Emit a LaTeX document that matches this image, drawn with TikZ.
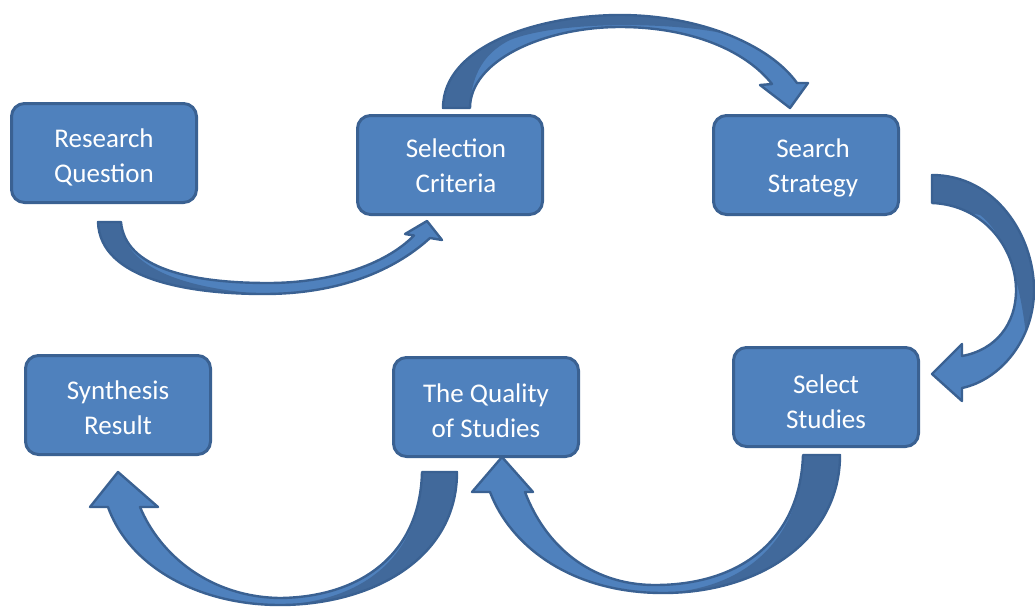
\documentclass[tikz,border=0pt]{standalone}
\usepackage{fontspec}
\setmainfont{Carlito}
\definecolor{boxfill}{HTML}{4F81BD}
\definecolor{boxline}{HTML}{3A6192}
\definecolor{arrdark}{HTML}{41699B}
\tikzset{
  box/.style={draw=boxline, line width=3pt, fill=boxfill, rounded corners=13pt,
    minimum width=185pt, minimum height=99pt},
  txt/.style={text=white, align=center, font=\fontsize{27}{35}\selectfont},
  arrline/.style={draw=boxline, line width=2.4pt, line join=round},
  pA/.style={insert path={(98,222) .. controls (100,280) and (190,294) .. (264,294)
    .. controls (340,294) and (395,270) .. (430,238) -- (442,240) -- (427,221) -- (405,234)
    -- (414,235.5) .. controls (385,265) and (330,283) .. (268,283)
    .. controls (190,283) and (125,268) .. (121,222) -- cycle}},
  dA/.style={insert path={(98,222) .. controls (100,280) and (190,294) .. (264,294)
    .. controls (190,289) and (123,270) .. (121,222) -- cycle}},
  pB/.style={insert path={(443,108) .. controls (443,45) and (540,15) .. (620,15)
    .. controls (700,15) and (770,45) .. (797,83) -- (808,83) -- (790,108) -- (760,85)
    -- (772,84) .. controls (745,50) and (690,27) .. (620,27)
    .. controls (545,27) and (470,60) .. (470,108) -- cycle}},
  dB/.style={insert path={(443,108) .. controls (443,45) and (540,15) .. (620,15)
    .. controls (670,15) and (705,22) .. (730,35) .. controls (680,22) and (560,20) .. (510,40)
    .. controls (480,55) and (471,80) .. (470,108) -- cycle}},
  pC/.style={insert path={(932,175) .. controls (995,175) and (1034,235) .. (1034,290)
    .. controls (1034,340) and (1000,380) .. (962,388) -- (962,401) -- (932,374) -- (962,344)
    -- (962,356) .. controls (995,350) and (1016,325) .. (1016,290)
    .. controls (1016,250) and (985,205) .. (932,203) -- cycle}},
  dC/.style={insert path={(930,170) -- (1000,170) -- (1040,240) -- (1040,300) -- (1026,335)
    .. controls (1022,300) and (1012,240) .. (980,215) -- (930,205) -- cycle}},
  pD/.style={insert path={(840,455) .. controls (840,540) and (760,593) .. (663,593)
    .. controls (570,593) and (510,545) .. (490,492) -- (472,492) -- (502,457) -- (533,492)
    -- (525,492) .. controls (545,545) and (590,585) .. (655,585)
    .. controls (740,585) and (800,540) .. (803,455) -- cycle}},
  dD/.style={insert path={(840,455) .. controls (840,540) and (760,593) .. (663,593)
    .. controls (745,589) and (801,540) .. (803,455) -- cycle}},
  pE/.style={insert path={(457,472) .. controls (457,560) and (370,605) .. (280,605)
    .. controls (200,605) and (130,568) .. (108,507) -- (90,507) -- (118,472) -- (158,507)
    -- (140,507) .. controls (160,555) and (210,597) .. (280,598)
    .. controls (360,597) and (420,555) .. (422,472) -- cycle}},
  dE/.style={insert path={(457,472) .. controls (457,560) and (370,605) .. (280,605)
    .. controls (365,601) and (421,555) .. (422,472) -- cycle}},
}
\begin{document}
\begin{tikzpicture}[x=1pt,y=-1pt]
\useasboundingbox (0,0) rectangle (1035,606);
% curved block arrows
\foreach \p/\d in {pA/dA,pB/dB,pC/dC,pD/dD,pE/dE}{
  \fill[boxfill, \p];
  \begin{scope}
    \clip[\p];
    \fill[arrdark, \d];
  \end{scope}
  \draw[arrline, \p];
}
% boxes
\node[box] (rq)  at (104,153) {};
\node[box] (sc)  at (450,165) {};
\node[box] (ss)  at (806,165) {};
\node[box] (sel) at (826,397) {};
\node[box] (qs)  at (486,407) {};
\node[box] (syn) at (118,405) {};
% texts
\node[txt] (rqt)  at (104,157)   {Research\\Question};
\node[txt] (sct)  at (456,166)   {Selection\\Criteria};
\node[txt] (sst)  at (813,168)   {Search\\Strategy};
\node[txt] (selt) at (826,401.5) {Select\\Studies};
\node[txt] (qst)  at (486,410.5) {The Quality\\of Studies};
\node[txt] (synt) at (118,407.5) {Synthesis\\Result};
\end{tikzpicture}
\end{document}
